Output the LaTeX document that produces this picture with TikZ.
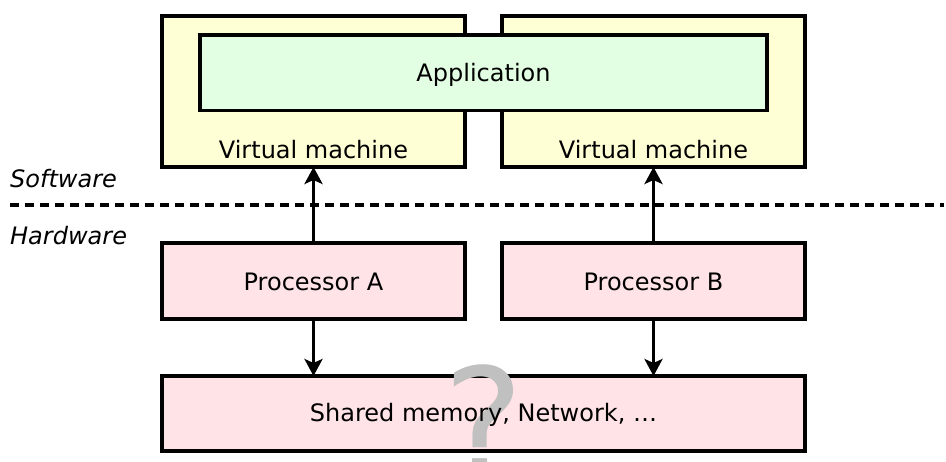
\documentclass[tikz,border=0pt]{standalone}
\usepackage{fontspec}
\setmainfont{DejaVu Sans}
\usetikzlibrary{arrows.meta}
\definecolor{vmfill}{RGB}{255,255,213}
\definecolor{appfill}{RGB}{227,255,227}
\definecolor{hwfill}{RGB}{255,227,230}
\definecolor{qgrey}{RGB}{192,192,192}
\tikzset{
  box/.style={draw=black, line width=3.3pt, inner sep=0pt, outer sep=0pt},
  vmbox/.style={box, fill=vmfill, minimum width=303pt, minimum height=151pt},
  appbox/.style={box, fill=appfill, minimum width=567pt, minimum height=75.5pt},
  hwbox/.style={box, fill=hwfill, minimum height=76pt},
  lbl/.style={font=\fontsize{24}{28}\selectfont, inner sep=0pt},
  arr/.style={line width=3.3pt, -{Stealth[length=17pt,width=18pt,inset=4pt]}},
  sep/.style={line width=3.5pt, dash pattern=on 9pt off 6pt},
}
\begin{document}
\begin{tikzpicture}[x=1pt,y=-1pt]
\useasboundingbox (0,0) rectangle (946,462);
\clip (0,0) rectangle (946,462);
% virtual machines
\node[vmbox] (vm1) at (313.5,91.5) {};
\node[vmbox] (vm2) at (653.5,91.5) {};
\node[lbl, anchor=base] (vml1) at (313.5,159) {Virtual machine};
\node[lbl, anchor=base] (vml2) at (653.5,159) {Virtual machine};
\node[appbox] (app) at (483.5,72.75) {};
\node[lbl] (appt) at (483.5,74.5) {Application};
% separator
\node[lbl, anchor=base west, font=\fontsize{24}{28}\selectfont\itshape] (sw) at (10,188) {Software};
\node[lbl, anchor=base west, font=\fontsize{24}{28}\selectfont\itshape] (hw) at (10,245) {Hardware};
\coordinate (dl) at (10,205);
\coordinate (dr) at (944,205);
\draw[sep] (dl) -- (dr);
% hardware
\node[hwbox, minimum width=303pt] (pa) at (313.5,281) {};
\node[hwbox, minimum width=303pt] (pb) at (653.5,281) {};
\node[lbl] (pat) at (313.5,282) {Processor A};
\node[lbl] (pbt) at (653.5,282) {Processor B};
\node[hwbox, minimum width=643pt, minimum height=75pt] (sm) at (483.5,413.5) {};
\node[anchor=base, inner sep=0pt, text=qgrey, font=\fontsize{152}{160}\selectfont] (q) at (483.5,478) {?};
\node[lbl] (smt) at (483.5,414.5) {Shared memory, Network, \dots};
% arrows
\draw[arr] (pa.north) -- (pa.north |- vm1.south);
\draw[arr] (pb.north) -- (pb.north |- vm2.south);
\draw[arr] (pa.south) -- (pa.south |- sm.north);
\draw[arr] (pb.south) -- (pb.south |- sm.north);
\end{tikzpicture}
\end{document}
